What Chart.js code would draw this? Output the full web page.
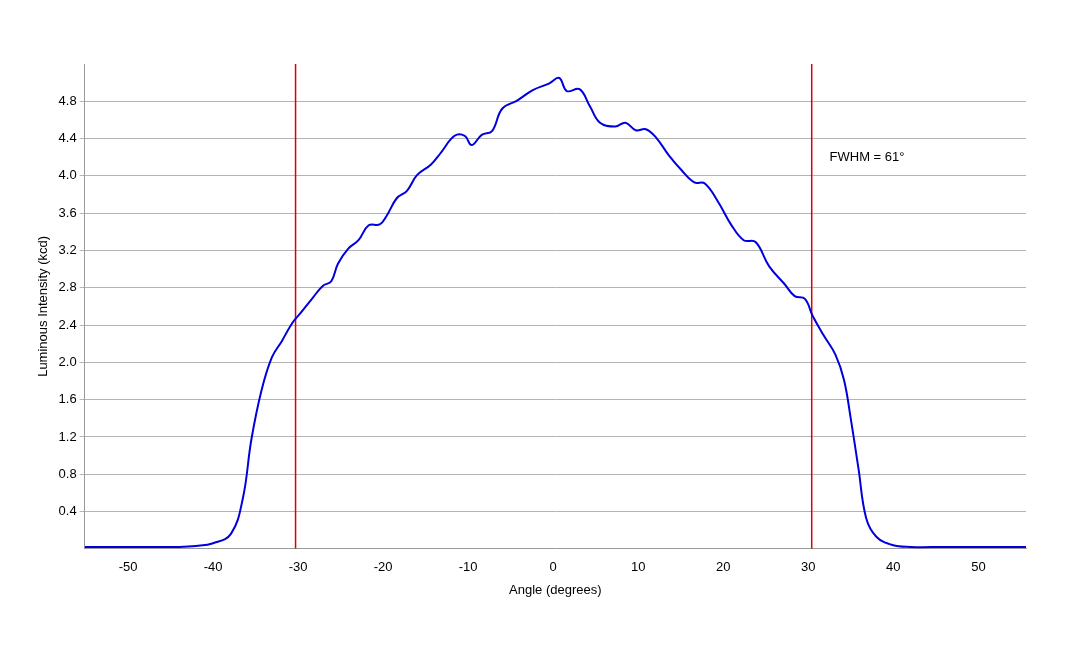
<!DOCTYPE html>
<html>
<head>
<meta charset="utf-8">
<script src="https://cdn.jsdelivr.net/npm/chart.js@4"></script>
<style>
  body { margin: 0; background: #fff; }
</style>
</head>
<body>
<canvas id="chart" width="1080" height="648"></canvas>
<script>
// angle (degrees) vs luminous intensity (kcd)
const angles = [-55.1, -48, -44, -42, -40, -37.9, -36.5, -35.5, -34.3, -33.1, -31.9, -30.7, -29.7, -28.3, -27.1, -26.1,
  -25.3, -24.1, -22.9, -21.7, -20.4, -19.6, -18.4, -17.2, -16.0, -14.4, -13.2, -11.6, -10.4, -9.6, -8.4, -7.2,
  -6.0, -4.2, -2.4, -0.5, 0.7, 1.6, 3.1, 4.3, 5.5, 7.3, 8.5, 9.7, 10.9, 12.1, 13.6, 15.1, 16.6, 17.8, 19.4,
  20.9, 22.4, 23.8, 25.4, 27.2, 28.4, 29.6, 30.5, 31.8, 33.2, 34.2, 35.0, 35.9, 36.8, 38.0, 39.9, 42, 46, 55.6];
const intensity = [0.02, 0.02, 0.02, 0.03, 0.06, 0.16, 0.54, 1.17, 1.70, 2.05, 2.23, 2.42, 2.53, 2.69, 2.82, 2.87,
  3.06, 3.22, 3.31, 3.47, 3.48, 3.57, 3.76, 3.84, 4.01, 4.12, 4.25, 4.43, 4.43, 4.33, 4.44, 4.48,
  4.72, 4.81, 4.92, 4.99, 5.05, 4.91, 4.93, 4.75, 4.57, 4.53, 4.57, 4.49, 4.50, 4.41, 4.22, 4.06, 3.93, 3.92, 3.72,
  3.48, 3.31, 3.29, 3.03, 2.84, 2.71, 2.68, 2.50, 2.29, 2.08, 1.81, 1.39, 0.86, 0.33, 0.13, 0.04, 0.02, 0.02, 0.02];
const fwhmEdges = [-30.3, 30.4];
const xTicks = [-50, -40, -30, -20, -10, 0, 10, 20, 30, 40, 50];
const yTicks = [0.4, 0.8, 1.2, 1.6, 2.0, 2.4, 2.8, 3.2, 3.6, 4.0, 4.4, 4.8];
const fwhmLabel = 'FWHM = 61°';

const curve = angles.map((a, i) => ({ x: a, y: intensity[i] }));

const labelPlugin = {
  id: 'fwhmLabel',
  afterDatasetsDraw(chart) {
    const { ctx, scales } = chart;
    ctx.save();
    ctx.font = '13px "Liberation Sans", Arial, sans-serif';
    ctx.fillStyle = '#000';
    ctx.textBaseline = 'middle';
    ctx.fillText(fwhmLabel, scales.x.getPixelForValue(32.5), scales.y.getPixelForValue(4.2));
    ctx.restore();
  }
};

new Chart(document.getElementById('chart'), {
  type: 'scatter',
  data: {
    datasets: [
      { data: curve, showLine: true, borderColor: '#0000dd', borderWidth: 2, pointRadius: 0, tension: 0.4 },
      ...fwhmEdges.map(e => ({
        data: [{ x: e, y: 0 }, { x: e, y: 5.2 }], showLine: true,
        borderColor: '#dd0000', borderWidth: 1.5, pointRadius: 0
      }))
    ]
  },
  options: {
    responsive: false,
    animation: false,
    layout: { padding: { left: 32, right: 54, top: 64, bottom: 46 } },
    plugins: { legend: { display: false }, tooltip: { enabled: false } },
    scales: {
      x: {
        type: 'linear', min: -55.1, max: 55.6,
        afterBuildTicks: s => { s.ticks = xTicks.map(v => ({ value: v })); },
        grid: { display: false },
        border: { color: '#999' },
        ticks: { color: '#000', font: { family: 'Liberation Sans', size: 13 } },
        title: { display: true, text: 'Angle (degrees)', color: '#000', font: { family: 'Liberation Sans', size: 13 } }
      },
      y: {
        min: 0, max: 5.2,
        afterBuildTicks: s => { s.ticks = yTicks.map(v => ({ value: v })); },
        grid: { color: '#b3b3b3', tickLength: 5 },
        border: { color: '#999' },
        ticks: { color: '#000', callback: v => v.toFixed(1), font: { family: 'Liberation Sans', size: 13 } },
        title: { display: true, text: 'Luminous Intensity (kcd)', color: '#000', font: { family: 'Liberation Sans', size: 13 } }
      }
    }
  },
  plugins: [labelPlugin]
});
</script>
</body>
</html>
